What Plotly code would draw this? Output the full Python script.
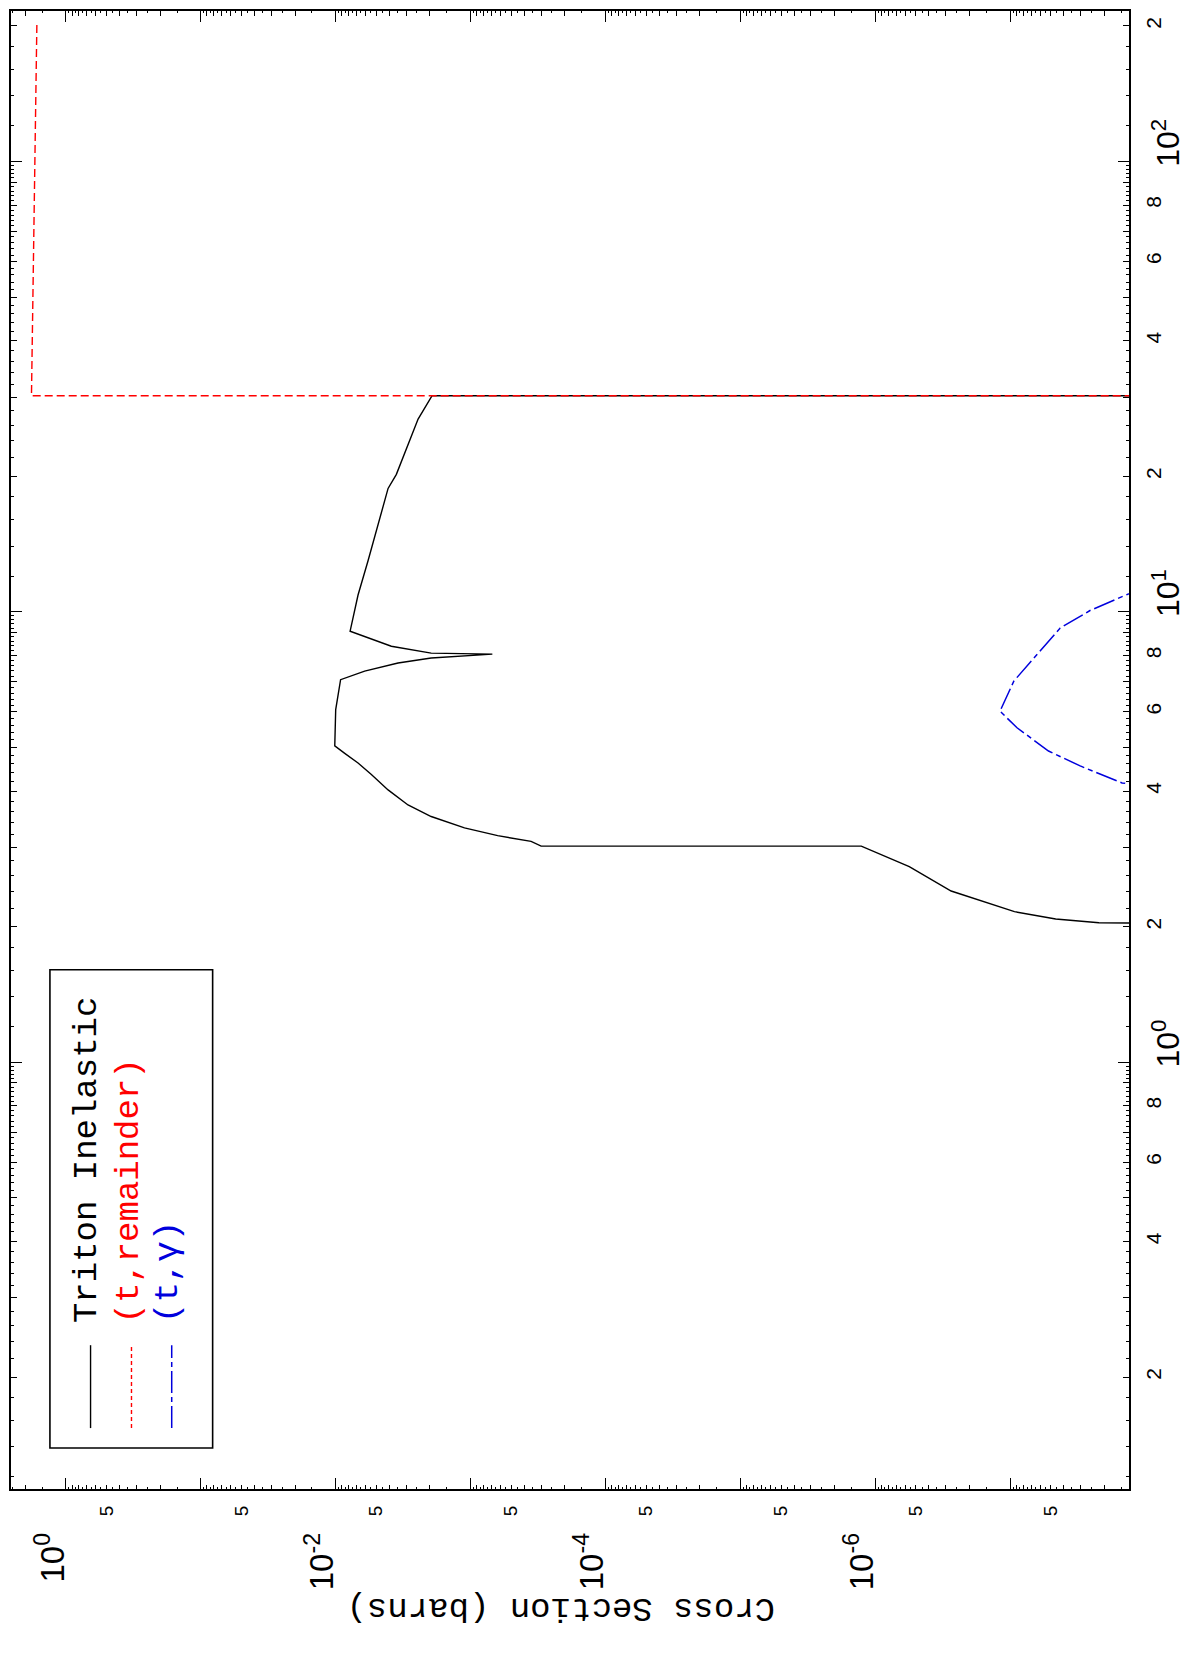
import plotly.graph_objects as go

# ---------------- data (energy in MeV, cross section in barns) ----------------
series_names = ["Triton Inelastic", "(t,remainder)", "(t,\u03b3)"]

energy_triton = [2.000, 2.04, 2.08, 2.16, 2.40, 2.72, 3.02, 3.02, 3.094, 3.185,
                 3.314, 3.513, 3.727, 4.025, 4.356, 4.618, 4.85, 5.04, 6.07, 7.07,
                 7.39, 7.70, 7.90, 8.06, 8.10, 8.39, 9.06, 10.9, 13.0, 16.5,
                 18.8, 20.2, 23.4, 26.8, 30.2, 30.2]
xs_triton = [1e-12, 2.2e-8, 4.6e-8, 9.3e-8, 2.74e-7, 5.6e-7, 1.27e-6, 3.0e-4, 3.56e-4, 6.3e-4,
             1.11e-3, 1.96e-3, 2.91e-3, 4.09e-3, 5.44e-3, 6.83e-3, 8.57e-3, 1.016e-2, 1.0e-2, 9.2e-3,
             6.1e-3, 3.45e-3, 1.96e-3, 6.9e-4, 1.96e-3, 3.87e-3, 7.82e-3, 6.83e-3, 5.75e-3, 4.59e-3,
             4.09e-3, 3.55e-3, 2.91e-3, 2.45e-3, 1.93e-3, 1e-12]

energy_remainder = [30.2, 30.2, 77.0, 205.0]
xs_remainder = [1e-12, 1.80, 1.72, 1.64]

energy_gamma = [4.0, 4.17, 4.55, 4.91, 5.53, 6.02, 7.02, 8.05, 9.21, 10.07, 10.96, 11.5]
xs_gamma = [5e-9, 1.48e-8, 3.03e-8, 5.2e-8, 8.9e-8, 1.19e-7, 9.4e-8, 6.3e-8, 4.26e-8,
            2.56e-8, 1.33e-8, 6e-9]

# tick labels
xs_decade_exps = [0, -1, -2, -3, -4, -5, -6, -7]
xs_labelled_exps = [0, -2, -4, -6]
e_decade_exps = [0, 1, 2]
e_mid_labelled = [2, 4, 6, 8]
xs_mid_labelled = [5]
axis_title = "Cross Section (barns)"

# ---------------- layout geometry ----------------
# the page body adds an 8 px offset; page coordinates below are screen pixels
W, H = 1194, 1656
BODY = 8
PX0, PX1, PY0, PY1 = 9, 1129, 9, 1489            # plot frame on the page
L, T = PX0 - BODY, PY0 - BODY
R, B = W - (PX1 - BODY), H - (PY1 - BODY)
XS_RANGE = [0.407, -7.8807]    # log10 barns, increasing to the left
E_RANGE = [-0.9475, 2.3342]    # log10 MeV, increasing upward


def px(p):
    return (p - PX0) / (PX1 - PX0)


def py(p):
    return (PY1 - p) / (PY1 - PY0)


def sup(k):
    return "10<sup>%d</sup>" % k


# tick positions
xs_major = [10.0 ** k for k in xs_decade_exps]
xs_major_text = [sup(k) if k in xs_labelled_exps else "" for k in xs_decade_exps]
xs_mid = [m * 10.0 ** k for k in range(-8, 1) for m in range(2, 10)]
xs_mid_text = [str(m) if m in xs_mid_labelled else "" for k in range(-8, 1) for m in range(2, 10)]
xs_minor = [(m + 0.5) * 10.0 ** k for k in range(-8, 1) for m in range(1, 10)]

e_major = [10.0 ** k for k in e_decade_exps]
e_major_text = [sup(k) for k in e_decade_exps]
e_mid = [m * 10.0 ** k for k in range(-1, 3) for m in range(2, 10)]
e_mid_text = [str(m) if m in e_mid_labelled else "" for k in range(-1, 3) for m in range(2, 10)]
e_minor = [(m + f / 10.0) * 10.0 ** k for k in range(-1, 3) for m in range(1, 10) for f in (2, 4, 6, 8)]

TICKFONT = "Liberation Sans, Arial, sans-serif"
MONO = "Liberation Mono, Courier New, monospace"

fig = go.Figure()
fig.add_trace(go.Scatter(x=xs_triton, y=energy_triton, mode="lines", name=series_names[0],
                         line=dict(color="black", width=1.4), showlegend=False))
fig.add_trace(go.Scatter(x=xs_remainder, y=energy_remainder, mode="lines", name=series_names[1],
                         line=dict(color="#ff0000", width=1.4, dash="8px,4px"), showlegend=False))
fig.add_trace(go.Scatter(x=xs_gamma, y=energy_gamma, mode="lines", name=series_names[2],
                         line=dict(color="#0000dd", width=1.5, dash="22px,4px,5px,4px"), showlegend=False))
# carrier for the overlay axes
fig.add_trace(go.Scatter(x=[None], y=[None], xaxis="x2", yaxis="y2", mode="lines",
                         showlegend=False, hoverinfo="skip"))

common = dict(type="log", ticks="inside", mirror="ticks", tickcolor="black",
              showgrid=False, zeroline=False, tickangle=-90)

fig.update_layout(
    width=W, height=H,
    margin=dict(l=L, r=R, t=T, b=B, pad=0),
    paper_bgcolor="white", plot_bgcolor="white",
    showlegend=False,
    xaxis=dict(common, range=XS_RANGE, autorange=False, tickmode="array",
               tickvals=xs_major, ticktext=xs_major_text, ticklen=11, tickwidth=1.3,
               showline=True, linecolor="black", linewidth=1.6,
               tickfont=dict(family=TICKFONT, size=33, color="black"),
               ticklabelstandoff=29, ticklabelshift=13,
               minor=dict(tickmode="array", tickvals=xs_minor, ticks="inside",
                          ticklen=2.5, tickwidth=1, tickcolor="black", showgrid=False),
               anchor="y"),
    xaxis2=dict(common, range=XS_RANGE, autorange=False, tickmode="array",
                tickvals=xs_mid, ticktext=xs_mid_text, ticklen=4.5, tickwidth=1.2,
                showline=False, overlaying="x", anchor="y2", side="bottom",
                tickfont=dict(family=TICKFONT, size=19, color="black"),
                ticklabelstandoff=12),
    yaxis=dict(common, range=E_RANGE, autorange=False, tickmode="array",
               tickvals=e_major, ticktext=e_major_text, ticklen=11, tickwidth=1.3,
               showline=True, linecolor="black", linewidth=1.6, side="right",
               tickfont=dict(family=TICKFONT, size=32, color="black"),
               ticklabelstandoff=10, ticklabelshift=-14,
               minor=dict(tickmode="array", tickvals=e_minor, ticks="inside",
                          ticklen=3, tickwidth=1, tickcolor="black", showgrid=False),
               anchor="x"),
    yaxis2=dict(common, range=E_RANGE, autorange=False, tickmode="array",
                tickvals=e_mid, ticktext=e_mid_text, ticklen=6, tickwidth=1.2,
                showline=False, overlaying="y", anchor="x2", side="right",
                tickfont=dict(family=TICKFONT, size=21, color="black"),
                ticklabelstandoff=10),
)

# ---------------- hand-built legend (rotated like the page) ----------------
shapes = [dict(type="rect", xref="paper", yref="paper",
               x0=px(48), x1=px(211), y0=py(1448), y1=py(969),
               line=dict(color="black", width=1.6), fillcolor="rgba(0,0,0,0)")]
sample_x = [88.7, 129.7, 170.0]
sample_style = [dict(color="black", width=1.4),
                dict(color="#ff0000", width=1.4, dash="4px,3px"),
                dict(color="#0000dd", width=1.5, dash="22px,4px,5px,4px")]
for sx, st in zip(sample_x, sample_style):
    shapes.append(dict(type="line", xref="paper", yref="paper",
                       x0=px(sx), x1=px(sx), y0=py(1428), y1=py(1345), line=st))
fig.update_layout(shapes=shapes)

text_cols = ["black", "#ff0000", "#0000dd"]
text_x = [85, 127, 167]
for name, c, tx in zip(series_names, text_cols, text_x):
    fig.add_annotation(text=name, xref="paper", yref="paper", x=px(tx), y=py(1325),
                       xanchor="center", yanchor="bottom", textangle=-90, showarrow=False,
                       font=dict(family=MONO, size=34, color=c))

fig.add_annotation(text=axis_title, xref="paper", yref="paper", x=px(560), y=py(1608),
                   xanchor="center", yanchor="middle", textangle=180, showarrow=False,
                   font=dict(family=MONO, size=34, color="black"))

fig.write_html("out.html")
